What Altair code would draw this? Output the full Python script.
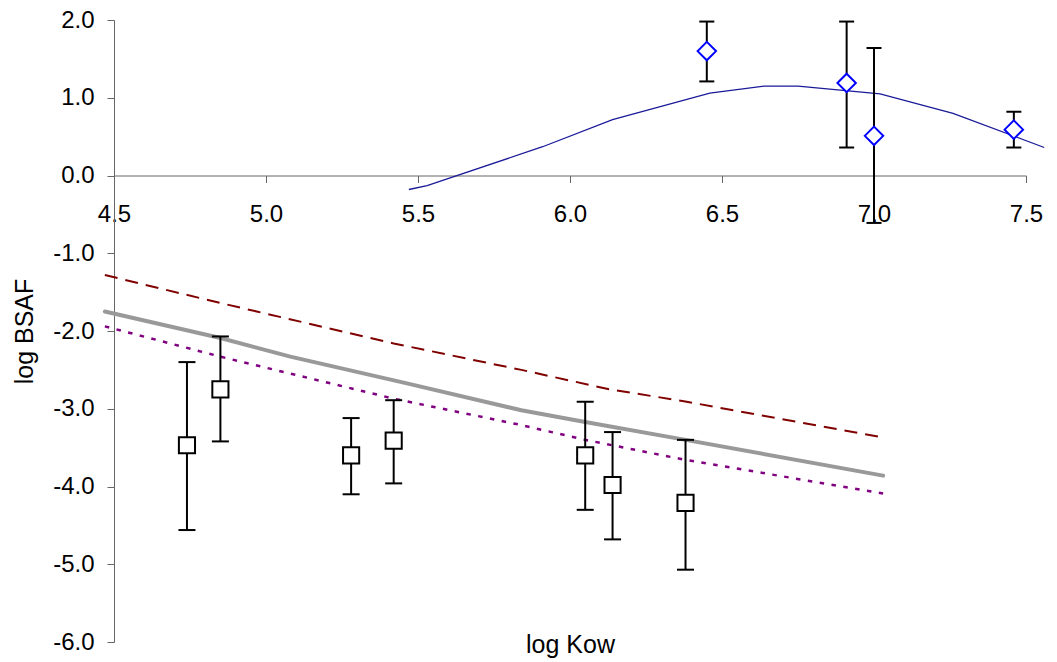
import altair as alt
import pandas as pd

# ---- upper series (diamonds with error bars) ----
up_x = [6.45, 6.91, 7.00, 7.46]
up_y = [1.60, 1.19, 0.51, 0.59]
up_lo = [1.21, 0.36, -0.61, 0.36]
up_hi = [1.98, 1.98, 1.64, 0.82]

# ---- upper model curve ----
curve_x = [5.47, 5.53, 5.91, 6.14, 6.46, 6.64, 6.75, 7.02, 7.26, 7.56]
curve_y = [-0.18, -0.13, 0.37, 0.72, 1.06, 1.15, 1.15, 1.05, 0.80, 0.36]

# ---- lower series (squares with error bars) ----
low_x = [4.74, 4.85, 5.28, 5.42, 6.05, 6.14, 6.38]
low_y = [-3.47, -2.75, -3.60, -3.41, -3.60, -3.98, -4.21]
low_lo = [-4.56, -3.42, -4.10, -3.96, -4.30, -4.68, -5.07]
low_hi = [-2.40, -2.07, -3.12, -2.89, -2.91, -3.30, -3.40]

# ---- lower model lines ----
gray_x = [4.47, 4.85, 5.08, 5.46, 5.84, 6.05, 6.38, 7.03]
gray_y = [-1.75, -2.09, -2.33, -2.67, -3.02, -3.17, -3.40, -3.86]
red_x = [4.47, 4.85, 5.42, 5.84, 6.13, 6.37, 7.03]
red_y = [-1.28, -1.64, -2.16, -2.50, -2.75, -2.90, -3.37]
pur_x = [4.47, 4.85, 5.42, 5.84, 6.05, 6.37, 7.03]
pur_y = [-1.94, -2.33, -2.87, -3.21, -3.40, -3.65, -4.09]

x_ticks = [4.5, 5.0, 5.5, 6.0, 6.5, 7.0, 7.5]
y_ticks = [-6, -5, -4, -3, -2, -1, 0, 1, 2]

FONT = "Liberation Sans"
FS = 24
TFS = 25
label_expr = "replace(format(datum.value, '.1f'), '\u2212', '-')"

xs = alt.Scale(domain=[4.5, 7.5], nice=False, zero=False)
ys = alt.Scale(domain=[-6, 2], nice=False, zero=False)

xaxis = alt.Axis(
    values=x_ticks, labelExpr=label_expr, offset=-466.5, tickSize=7,
    labelPadding=20, labelFontSize=FS, labelFont=FONT, labelColor="black",
    labelFlush=False, labelOverlap=False, domainColor="#666666",
    tickColor="#666666", grid=False, title="log Kow", titleFont=FONT,
    titleFontSize=TFS, titleFontWeight="normal", titleColor="black",
    titleY=477, titleBaseline="alphabetic",
)
yaxis = alt.Axis(
    values=y_ticks, labelExpr=label_expr, tickSize=7, labelPadding=13,
    labelFontSize=FS, labelFont=FONT, labelColor="black", labelFlush=False,
    labelOverlap=False, domainColor="#666666", tickColor="#666666", grid=False,
    title="log BSAF", titleFont=FONT, titleFontSize=TFS, titleFontWeight="normal",
    titleColor="black", titleAngle=270, titleX=-82, titleY=311,
    titleBaseline="alphabetic", titleAlign="center",
)

up = pd.DataFrame({"x": up_x, "y": up_y, "lo": up_lo, "hi": up_hi})
low = pd.DataFrame({"x": low_x, "y": low_y, "lo": low_lo, "hi": low_hi})
curve = pd.DataFrame({"x": curve_x, "y": curve_y})
gray = pd.DataFrame({"x": gray_x, "y": gray_y})
red = pd.DataFrame({"x": red_x, "y": red_y})
pur = pd.DataFrame({"x": pur_x, "y": pur_y})


def X(f="x"):
    return alt.X(f + ":Q", scale=xs, axis=xaxis)


def Y(f="y"):
    return alt.Y(f + ":Q", scale=ys, axis=yaxis)


curve_l = alt.Chart(curve).mark_line(color="#1a1a99", strokeWidth=1.3).encode(x=X(), y=Y())
gray_l = alt.Chart(gray).mark_line(color="#999999", strokeWidth=4, strokeCap="round").encode(x=X(), y=Y())
red_l = alt.Chart(red).mark_line(color="#800000", strokeWidth=2, strokeDash=[13, 8]).encode(x=X(), y=Y())
pur_l = alt.Chart(pur).mark_line(color="#800080", strokeWidth=2.5, strokeDash=[4.5, 7.5]).encode(x=X(), y=Y())

up_rule = alt.Chart(up).mark_rule(color="black", strokeWidth=2).encode(x=X(), y=Y("lo"), y2="hi:Q")
up_cap_lo = alt.Chart(up).mark_tick(orient="horizontal", size=15, thickness=2, color="black", opacity=1).encode(x=X(), y=Y("lo"))
up_cap_hi = alt.Chart(up).mark_tick(orient="horizontal", size=15, thickness=2, color="black", opacity=1).encode(x=X(), y=Y("hi"))
up_pts = alt.Chart(up).mark_point(shape="diamond", size=340, filled=True, fill="white",
                                  stroke="#0000ff", strokeWidth=2, opacity=1).encode(x=X(), y=Y())

low_rule = alt.Chart(low).mark_rule(color="black", strokeWidth=2).encode(x=X(), y=Y("lo"), y2="hi:Q")
low_cap_lo = alt.Chart(low).mark_tick(orient="horizontal", size=17, thickness=2, color="black", opacity=1).encode(x=X(), y=Y("lo"))
low_cap_hi = alt.Chart(low).mark_tick(orient="horizontal", size=17, thickness=2, color="black", opacity=1).encode(x=X(), y=Y("hi"))
low_pts = alt.Chart(low).mark_point(shape="square", size=260, filled=True, fill="white",
                                    stroke="black", strokeWidth=2, opacity=1).encode(x=X(), y=Y())

chart = alt.layer(
    curve_l, gray_l, red_l, pur_l,
    up_rule, up_cap_lo, up_cap_hi, low_rule, low_cap_lo, low_cap_hi,
    up_pts, low_pts,
).properties(
    width=912, height=622,
    autosize=alt.AutoSizeParams(type="none"),
    padding={"left": 114, "top": 20, "right": 31, "bottom": 20},
    background="white",
).configure_view(stroke=None)

chart.save("out.html", embed_options={"renderer": "svg", "actions": False})
